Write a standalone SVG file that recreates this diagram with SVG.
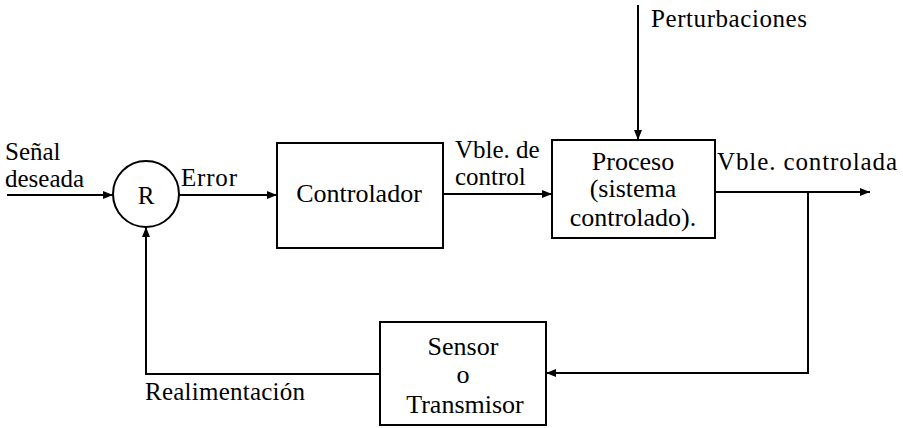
<svg xmlns="http://www.w3.org/2000/svg" width="903" height="428" viewBox="0 0 903 428">
  <style>
    .box { fill: none; stroke: #000; stroke-width: 2; }
    .wire { fill: none; stroke: #000; stroke-width: 2; }
  </style>
  <defs>
    <marker id="arrow" viewBox="0 0 10 8" refX="10" refY="4" markerWidth="10" markerHeight="8" markerUnits="userSpaceOnUse" orient="auto">
      <path d="M0,0 L10,4 L0,8 Z" fill="#000"/>
    </marker>
  </defs>
  <rect width="903" height="428" fill="#fff"/>

  <!-- connectors -->
  <g id="connectors">
    <line class="wire" x1="7" y1="195" x2="113" y2="195" marker-end="url(#arrow)"/>
    <line class="wire" x1="179" y1="195" x2="277" y2="195" marker-end="url(#arrow)"/>
    <line class="wire" x1="443" y1="194" x2="552" y2="194" marker-end="url(#arrow)"/>
    <line class="wire" x1="638" y1="5" x2="638" y2="140" marker-end="url(#arrow)"/>
    <line class="wire" x1="715" y1="192" x2="870" y2="192" marker-end="url(#arrow)"/>
    <polyline class="wire" points="808,192 808,373 546,373" marker-end="url(#arrow)"/>
    <polyline class="wire" points="380,374 146,374 146,227" marker-end="url(#arrow)"/>
  </g>

  <!-- edge labels -->
  <g id="labels">
    <text x="5" y="160" font-family="Liberation Serif" font-size="25">Señal</text>
    <text x="5" y="187" font-family="Liberation Serif" font-size="25">deseada</text>
    <text x="181" y="186" font-family="Liberation Serif" font-size="25" textLength="56">Error</text>
    <text x="455" y="158" font-family="Liberation Serif" font-size="25">Vble. de</text>
    <text x="455" y="185" font-family="Liberation Serif" font-size="25">control</text>
    <text x="651" y="27" font-family="Liberation Serif" font-size="25" textLength="156">Perturbaciones</text>
    <text x="717" y="170" font-family="Liberation Serif" font-size="25" textLength="180">Vble. controlada</text>
    <text x="145" y="400" font-family="Liberation Serif" font-size="25" textLength="160">Realimentación</text>
  </g>

  <!-- summing junction -->
  <g id="node-R">
    <circle class="box" cx="146" cy="194" r="33"/>
    <text x="146" y="204" font-family="Liberation Serif" font-size="25" text-anchor="middle">R</text>
  </g>

  <g id="node-controlador">
    <rect class="box" x="277" y="143" width="166" height="105"/>
    <text x="359" y="202" font-family="Liberation Serif" font-size="26" text-anchor="middle">Controlador</text>
  </g>

  <g id="node-proceso">
    <rect class="box" x="552" y="140" width="163" height="98"/>
    <text x="633" y="170" font-family="Liberation Serif" font-size="26" text-anchor="middle">Proceso</text>
    <text x="633" y="197" font-family="Liberation Serif" font-size="26" text-anchor="middle">(sistema</text>
    <text x="633" y="226" font-family="Liberation Serif" font-size="26" text-anchor="middle">controlado).</text>
  </g>

  <g id="node-sensor">
    <rect class="box" x="380" y="322" width="166" height="103"/>
    <text x="463" y="355" font-family="Liberation Serif" font-size="26" text-anchor="middle">Sensor</text>
    <text x="463" y="383" font-family="Liberation Serif" font-size="26" text-anchor="middle">o</text>
    <text x="465" y="413" font-family="Liberation Serif" font-size="26" text-anchor="middle">Transmisor</text>
  </g>
</svg>
